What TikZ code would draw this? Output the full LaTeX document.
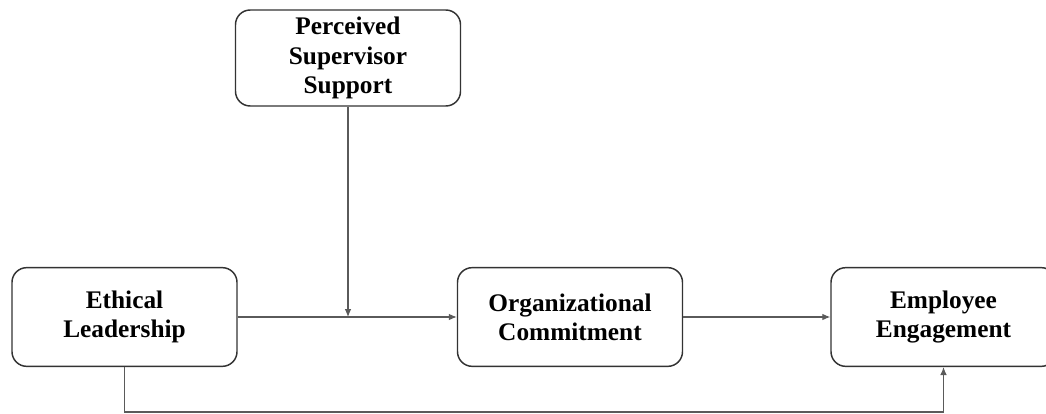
\documentclass[tikz,border=0pt]{standalone}
\usepackage{fontspec}
\setmainfont{Liberation Serif}
\usepackage{xcolor}
\usepackage{tikz}
\usetikzlibrary{arrows.meta,calc}
\definecolor{boxline}{HTML}{333333}
\definecolor{arrline}{HTML}{5A5A5A}

\begin{document}
\begin{tikzpicture}[x=0.75pt,y=-0.75pt,
  varbox/.style={draw=boxline, line width=1.1pt, rounded corners=11pt, align=center,
    minimum width=168.75pt, minimum height=74pt, inner sep=0pt,
    font=\fontsize{19}{22}\selectfont\bfseries},
  path/.style={draw=arrline, line width=0.8pt, -{Latex[length=6pt,width=5pt]}}]
\useasboundingbox (0,0) rectangle (1046,414);
\node[varbox, minimum height=72pt] (pss) at (348,58) {Perceived\\Supervisor\\Support};
\node[varbox] (el) at (124.5,317) {Ethical\\Leadership};
\node[varbox] (oc) at (570,317) {Organizational\\Commitment};
\node[varbox] (ee) at (943.5,317) {Employee\\Engagement};
\coordinate (mod) at (348,317);
\coordinate (low) at (124.5,412);
\draw[path] (el) -- (oc);
\draw[path] (pss) -- (mod);
\draw[path] (oc) -- (ee);
\draw[path] (el.south) -- (low) -| (ee.south);
\end{tikzpicture}
\end{document}
